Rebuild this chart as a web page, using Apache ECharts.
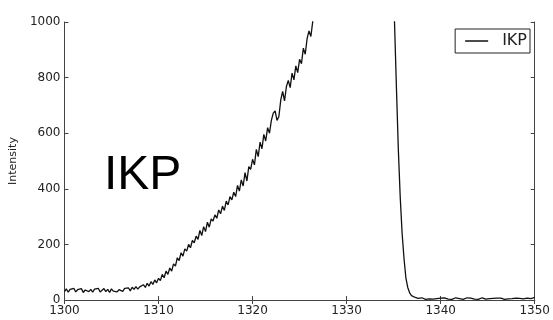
<!DOCTYPE html>
<html>
<head>
<meta charset="utf-8">
<script src="https://cdn.jsdelivr.net/npm/echarts@6/dist/echarts.min.js"></script>
<style>
  html, body { margin: 0; padding: 0; background: #fff; }
  #chart { width: 553px; height: 320px; }
</style>
</head>
<body>
<div id="chart"></div>
<script>
// rising flank, sampled every 0.2 from 1300.0
const riseStart = 1300;
const riseStep = 0.2;
const riseIntensity = [
  30, 40, 28, 38, 33, 42, 29, 37, 31, 41, 27, 36, 43, 30, 38, 28, 39, 33, 42, 29, 35, 41, 30, 38, 27, 40, 32, 39, 29, 37, 42,
  31, 42, 35, 44, 33, 46, 38, 48, 39, 47,
  40, 55, 45, 60, 50, 66, 56, 72, 62, 78,
  70, 92, 80, 104, 92, 115, 104, 130, 122, 152,
  142, 170, 158, 184, 176, 200, 188, 214, 206, 230,
  218, 250, 232, 264, 246, 280, 262, 292, 284, 306,
  294, 324, 310, 338, 322, 356, 342, 372, 360, 388,
  372, 412, 392, 432, 410, 458, 428, 480, 470, 506,
  486, 542, 516, 568, 544, 596, 572, 620, 600, 646,
  672, 680, 646, 660, 720, 750, 716, 768, 790, 764,
  816, 792, 842, 818, 866, 850, 906, 884, 940, 968, 948, 1002
];
// saturated peak (off the top) and falling edge
const peakPoints = [
  [1326.6, 1030], [1327, 1070], [1328, 1240], [1329, 1460], [1330, 1720],
  [1331, 1980], [1332, 2220], [1333, 2400], [1334, 2350], [1334.6, 1900],
  [1334.9, 1250], [1335.1, 990], [1335.3, 760], [1335.5, 540], [1335.7, 370],
  [1335.9, 240], [1336.1, 150], [1336.3, 80], [1336.5, 45], [1336.7, 26],
  [1336.9, 16], [1337.1, 12], [1337.3, 9], [1337.45, 7]
];
// flat tail, sampled every 0.2 from 1337.6
const tailStart = 1337.6;
const tailStep = 0.2;
const tailIntensity = [
  6, 3, 8, 5, 2, 7, 4, 8, 3, 6,
  5, 2, 7, 4, 8, 5, 3, 7, 2, 6,
  8, 3, 5, 7, 2, 6, 8, 4, 7, 5,
  3, 7, 2, 6, 8, 5, 3, 7, 5, 2,
  6, 12, 7, 3, 7, 5, 2, 7, 4, 8,
  5, 3, 7, 2, 6, 8, 4, 5, 7, 3,
  5, 8, 9
];
const xTicks = [1300, 1310, 1320, 1330, 1340, 1350];
const yTicks = [0, 200, 400, 600, 800, 1000];

const points = [];
riseIntensity.forEach((v, i) => points.push([+(riseStart + i * riseStep).toFixed(2), v]));
peakPoints.forEach(p => points.push(p));
tailIntensity.forEach((v, i) => points.push([+(tailStart + i * tailStep).toFixed(2), v]));

const frame = '#444';
const labelFont = { color: '#222', fontFamily: 'DejaVu Sans', fontSize: 12, formatter: v => String(v) };

const chart = echarts.init(document.getElementById('chart'), null, { renderer: 'canvas' });
chart.setOption({
  animation: false,
  backgroundColor: '#fff',
  grid: { left: 62, right: 15, top: 22, bottom: 20 },
  legend: {
    right: 23,
    top: 29,
    data: [{ name: 'IKP', icon: 'rect' }],
    borderColor: '#222',
    borderWidth: 1,
    borderRadius: 0,
    padding: [4, 3, 4, 10],
    itemWidth: 23,
    itemHeight: 1.5,
    textStyle: { color: '#222', fontFamily: 'DejaVu Sans', fontSize: 16, padding: [0, 0, 0, 9] }
  },
  graphic: [{
    type: 'text',
    left: 104,
    top: 152,
    style: { text: 'IKP', fill: '#000', font: '48px "Liberation Sans", Arial, sans-serif' }
  }],
  xAxis: [{
    type: 'value',
    min: xTicks[0],
    max: xTicks[xTicks.length - 1],
    interval: 10,
    axisLine: { show: true, lineStyle: { color: frame, width: 1 } },
    axisTick: { show: true, inside: true, length: 4, lineStyle: { color: frame } },
    axisLabel: Object.assign({ margin: 5 }, labelFont),
    splitLine: { show: false }
  }, {
    type: 'value',
    position: 'top',
    min: xTicks[0],
    max: xTicks[xTicks.length - 1],
    interval: 10,
    axisLine: { show: true, lineStyle: { color: frame, width: 1 } },
    axisTick: { show: true, inside: true, length: 4, lineStyle: { color: frame } },
    axisLabel: { show: false },
    splitLine: { show: false }
  }],
  yAxis: [{
    type: 'value',
    min: yTicks[0],
    max: yTicks[yTicks.length - 1],
    interval: 200,
    name: 'Intensity',
    nameLocation: 'middle',
    nameGap: 40,
    nameTextStyle: { color: '#222', fontFamily: 'DejaVu Sans', fontSize: 11 },
    axisLine: { show: true, lineStyle: { color: frame, width: 1 } },
    axisTick: { show: true, inside: true, length: 4, lineStyle: { color: frame } },
    axisLabel: Object.assign({ margin: 4 }, labelFont),
    splitLine: { show: false }
  }, {
    type: 'value',
    position: 'right',
    min: yTicks[0],
    max: yTicks[yTicks.length - 1],
    interval: 200,
    axisLine: { show: true, lineStyle: { color: frame, width: 1 } },
    axisTick: { show: true, inside: true, length: 4, lineStyle: { color: frame } },
    axisLabel: { show: false },
    splitLine: { show: false }
  }],
  series: [{
    name: 'IKP',
    type: 'line',
    data: points,
    symbol: 'none',
    showSymbol: false,
    clip: true,
    lineStyle: { color: '#111', width: 1.3 },
    itemStyle: { color: '#111' }
  }]
});
</script>
</body>
</html>
